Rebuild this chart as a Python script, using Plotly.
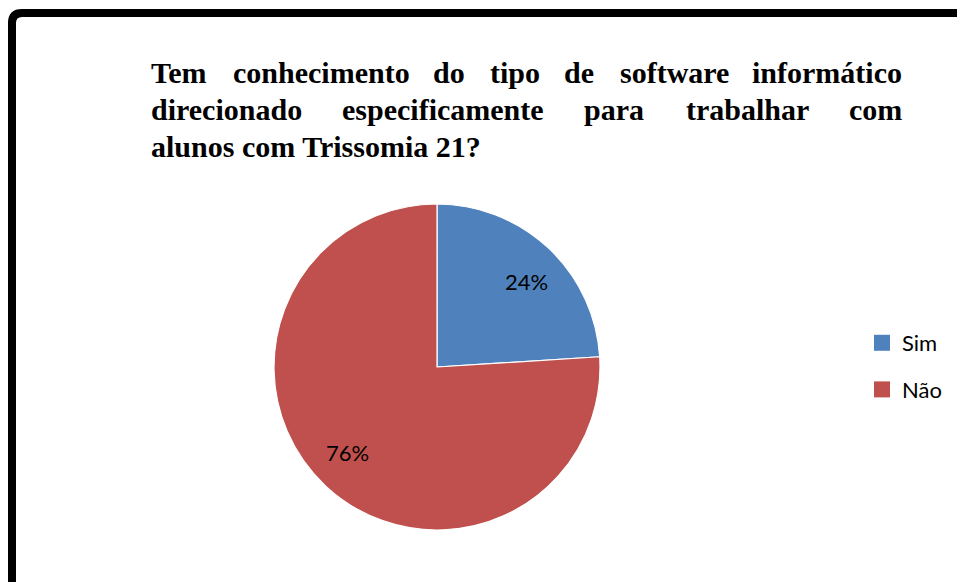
import math
import plotly.graph_objects as go

W, H = 965, 582
OFF = 8  # page body margin offset in the screenshot

categories = ["Sim", "Não"]
values = [24, 76]
colors = ["#4F81BD", "#C0504D"]

title_line1 = ["Tem", "conhecimento", "do", "tipo", "de", "software", "informático"]
title_line2 = ["direcionado", "especificamente", "para", "trabalhar", "com"]
title_line3 = "alunos com Trissomia 21?"


def px_x(x):
    return (x - OFF) / W


def px_y(y):
    return 1 - (y - OFF) / H


# pie geometry (screen pixels)
CX, CY, R = 437, 367, 163

fig = go.Figure()

fig.add_trace(go.Pie(
    labels=categories, values=values, sort=False, direction="clockwise", rotation=0,
    marker=dict(colors=colors, line=dict(color="white", width=1.2)),
    textinfo="none",
    domain=dict(x=[px_x(CX - R), px_x(CX + R)], y=[px_y(CY + R), px_y(CY - R)]),
    showlegend=False, hoverinfo="label+percent",
))

# percentage labels placed near the middle angle of each slice (derived from values)
total = sum(values)
start = 0.0
label_font = dict(family="Lato, Liberation Sans, sans-serif", size=22, color="black")
for v in values:
    frac = v / total
    mid = (start + frac / 2) * 2 * math.pi + math.radians(3)
    rr = 0.76 * R
    lx = CX + rr * math.sin(mid)
    ly = CY - rr * math.cos(mid)
    fig.add_annotation(x=px_x(lx), y=px_y(ly), xref="paper", yref="paper",
                       text="%d%%" % round(frac * 100), showarrow=False,
                       xanchor="center", yanchor="middle", font=label_font)
    start += frac

# legend proxies
for c, col in zip(categories, colors):
    fig.add_trace(go.Scatter(
        x=[None], y=[None], mode="markers", name=c, legendgroup=c,
        marker=dict(symbol="square", size=16, color=col),
    ))

fig.update_layout(
    width=W, height=H,
    margin=dict(l=0, r=0, t=0, b=0),
    paper_bgcolor="white", plot_bgcolor="white",
    xaxis=dict(visible=False), yaxis=dict(visible=False),
    showlegend=True,
    legend=dict(x=px_x(862), y=px_y(322), xanchor="left", yanchor="top",
                font=dict(family="Lato, Liberation Sans, sans-serif", size=22, color="black"),
                tracegroupgap=15, bgcolor="rgba(0,0,0,0)", itemclick=False),
)

title_font = dict(family="Liberation Serif, Times New Roman, serif", size=30, color="black")
LEFT, RIGHT = 150, 903
line1_centers = [None, 321, 449, 515, 579, 674, None]
line2_centers = [None, 443, 614, 747, None]
for words, cs, y in ((title_line1, line1_centers, 72), (title_line2, line2_centers, 109)):
    n = len(words)
    for i, (w, c) in enumerate(zip(words, cs)):
        if i == 0:
            x, anc = LEFT, "left"
        elif i == n - 1:
            x, anc = RIGHT, "right"
        else:
            x, anc = c, "center"
        fig.add_annotation(x=px_x(x), y=px_y(y), xref="paper", yref="paper",
                           text="<b>%s</b>" % w, showarrow=False, xanchor=anc,
                           yanchor="middle", font=title_font, borderpad=0)
fig.add_annotation(x=px_x(LEFT), y=px_y(146), xref="paper", yref="paper",
                   text="<b>%s</b>" % title_line3, showarrow=False, xanchor="left",
                   yanchor="middle", font=title_font, borderpad=0)

# frame border (top and left edges visible, rounded corner)
x0, y0, r = 12, 13, 10
path = "M %f,%f L %f,%f Q %f,%f %f,%f L %f,%f" % (
    px_x(x0), px_y(H + 20), px_x(x0), px_y(y0 + r), px_x(x0), px_y(y0),
    px_x(x0 + r), px_y(y0), px_x(W + 20), px_y(y0))
fig.add_shape(type="path", path=path, xref="paper", yref="paper",
              line=dict(color="black", width=8))

fig.write_html("out.html")
